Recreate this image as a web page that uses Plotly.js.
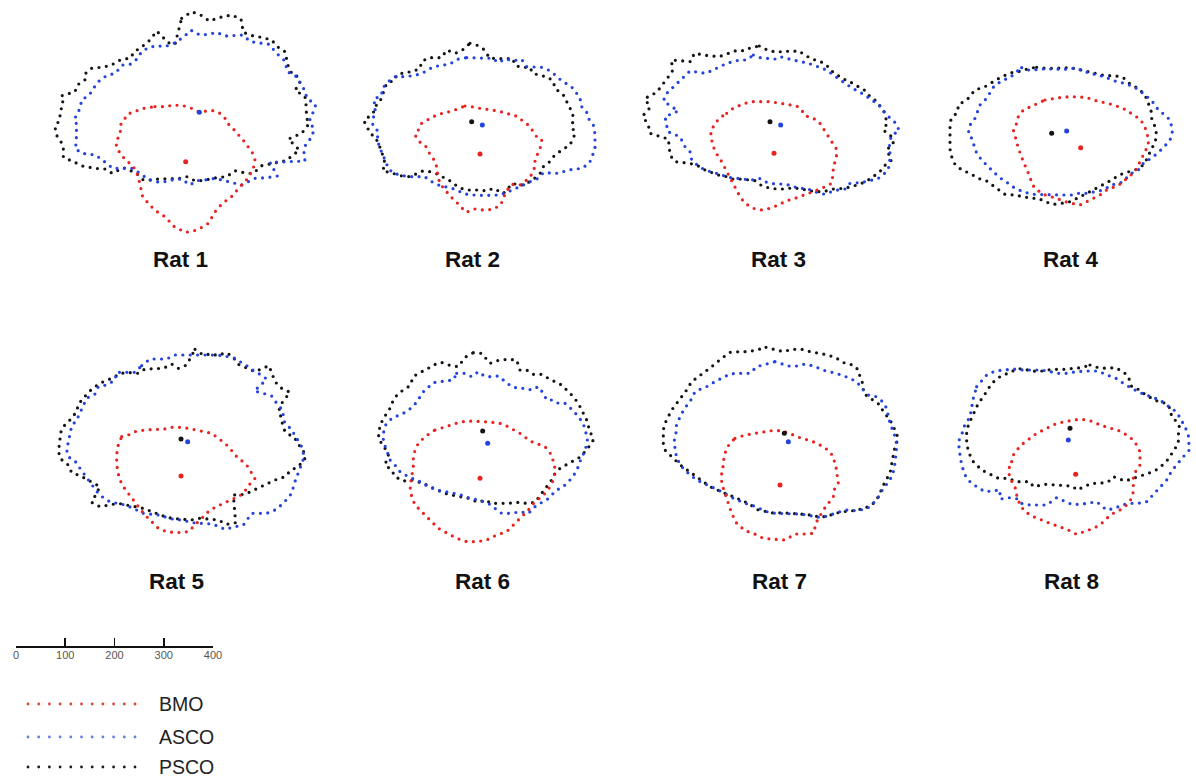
<!DOCTYPE html>
<html><head><meta charset="utf-8">
<script src="https://cdn.plot.ly/plotly-3.0.1.min.js"></script>
<style>
html,body{margin:0;padding:0;background:#fff;}
#chart{width:1196px;height:779px;}
.scatterlayer .js-line, .shapelayer path { stroke-linecap: round !important; }
</style></head><body><div id="chart"></div>
<script>
// Contour coordinates (image units, 1 unit = 1/3 px), per rat.
const RAT1_PSCO = [[425,40],[455,20],[482,30],[508,48],[540,37],[575,30],[603,42],[610,82],[637,92],[665,97],[695,105],[712,125],[735,140],[740,163],[745,185],[758,210],[775,215],[780,235],[765,255],[795,275],[798,298],[800,340],[808,355],[785,385],[745,402],[778,435],[755,452],[738,467],[665,482],[640,505],[620,505],[585,497],[560,515],[535,517],[510,522],[485,527],[460,525],[440,515],[420,520],[400,520],[380,520],[355,522],[330,525],[310,525],[290,505],[268,495],[250,488],[217,505],[195,492],[165,490],[128,483],[100,470],[70,457],[70,432],[63,410],[48,388],[45,363],[60,345],[60,320],[70,297],[63,273],[105,260],[112,240],[138,222],[137,205],[155,190],[190,186],[215,180],[233,168],[250,162],[270,160],[285,138],[300,130],[330,105],[350,78],[385,113],[405,118]];
const RAT1_ASCO = [[455,77],[480,90],[505,88],[530,82],[555,93],[580,92],[608,90],[632,110],[660,115],[688,118],[708,143],[735,168],[742,200],[770,215],[782,235],[795,258],[800,278],[827,300],[818,325],[808,348],[822,373],[815,397],[797,418],[792,442],[795,468],[740,470],[690,472],[712,513],[680,518],[645,520],[605,540],[565,530],[525,520],[495,525],[470,527],[450,540],[425,522],[395,525],[365,532],[345,530],[320,520],[300,505],[275,490],[245,490],[218,490],[200,475],[187,465],[167,450],[125,445],[105,430],[110,410],[108,385],[112,360],[102,345],[120,310],[125,285],[148,270],[160,250],[180,225],[200,212],[225,205],[248,180],[270,178],[290,163],[305,140],[325,128],[350,122],[375,125],[400,115],[410,112],[430,95]];
const RAT1_BMO = [[345,305],[375,305],[400,300],[430,302],[455,310],[475,320],[520,317],[540,325],[555,340],[558,350],[580,372],[598,393],[615,412],[637,443],[645,465],[640,490],[622,522],[600,545],[572,578],[548,594],[527,618],[505,655],[472,675],[437,682],[403,665],[375,635],[348,618],[327,598],[307,572],[300,537],[290,500],[275,478],[258,467],[245,450],[230,430],[228,410],[238,392],[242,375],[240,362],[255,340],[262,328],[282,320],[312,310]];

const RAT2_PSCO = [[360,25],[380,30],[400,42],[420,70],[440,70],[465,72],[487,70],[497,92],[515,97],[540,97],[548,115],[570,120],[595,127],[610,140],[615,160],[640,180],[655,210],[668,235],[670,255],[665,275],[676,295],[660,330],[635,345],[610,365],[595,385],[580,395],[575,410],[560,425],[540,440],[510,452],[488,445],[460,475],[430,460],[410,468],[390,465],[370,465],[350,465],[325,457],[305,440],[285,430],[265,418],[240,410],[218,408],[180,425],[150,422],[120,412],[98,408],[105,385],[95,350],[85,325],[75,305],[62,297],[42,258],[70,233],[75,215],[90,200],[97,180],[105,155],[110,145],[135,135],[140,120],[165,112],[188,110],[210,100],[215,80],[235,68],[255,68],[275,68],[290,45],[315,55],[335,47]];
const RAT2_ASCO = [[350,68],[370,68],[390,70],[410,70],[428,70],[445,83],[465,72],[490,77],[515,73],[530,95],[552,95],[575,97],[595,105],[612,117],[630,133],[650,148],[670,160],[690,190],[695,215],[710,232],[715,250],[730,270],[735,297],[735,342],[718,385],[695,400],[655,405],[625,415],[580,413],[565,430],[540,440],[510,455],[470,470],[450,480],[430,480],[405,482],[385,480],[360,480],[340,475],[320,465],[300,458],[270,452],[235,435],[225,425],[180,425],[160,422],[130,415],[115,400],[108,382],[95,355],[88,335],[82,312],[85,290],[68,270],[72,235],[78,215],[70,195],[95,180],[97,160],[115,140],[135,125],[160,125],[190,122],[210,117],[225,110],[250,95],[275,90],[300,87],[315,77],[330,70]];
const RAT2_BMO = [[345,213],[365,215],[390,220],[420,225],[445,228],[470,235],[490,240],[505,245],[520,260],[535,270],[545,283],[560,305],[575,312],[575,325],[570,340],[560,360],[555,375],[555,395],[548,410],[540,428],[510,450],[485,448],[468,470],[452,510],[428,523],[400,525],[375,522],[348,532],[323,505],[295,478],[285,462],[272,450],[265,430],[262,410],[258,385],[248,368],[235,350],[228,335],[213,325],[205,315],[195,300],[205,285],[215,265],[240,250],[265,238],[290,232],[315,225]];

const RAT3_PSCO = [[388,33],[412,45],[440,52],[465,48],[485,50],[505,47],[525,60],[545,72],[568,78],[590,90],[600,105],[620,120],[640,132],[660,140],[675,150],[695,160],[710,170],[720,185],[735,195],[748,210],[762,230],[765,245],[773,262],[760,285],[785,305],[790,325],[770,345],[785,375],[760,395],[750,410],[715,435],[695,445],[665,455],[640,460],[610,462],[580,470],[555,470],[530,465],[510,462],[490,458],[465,462],[440,462],[415,458],[395,452],[375,437],[355,435],[335,432],[310,433],[290,425],[265,420],[245,412],[225,405],[205,393],[180,385],[135,380],[120,360],[118,337],[115,312],[60,295],[55,270],[38,243],[60,218],[45,190],[80,172],[95,152],[127,110],[125,75],[182,80],[193,55],[235,62],[268,65],[295,55],[318,47],[345,47],[362,38]];
const RAT3_ASCO = [[370,60],[390,68],[410,70],[435,72],[450,65],[465,68],[490,75],[512,80],[530,83],[550,90],[570,97],[590,105],[610,120],[630,135],[650,148],[668,160],[685,168],[705,180],[725,195],[745,208],[758,225],[770,240],[798,265],[808,288],[785,300],[778,325],[780,355],[778,375],[778,393],[770,410],[745,430],[720,437],[690,443],[660,445],[645,462],[612,467],[585,478],[560,472],[530,460],[505,460],[485,452],[460,447],[437,447],[412,443],[388,430],[365,435],[345,433],[325,430],[295,427],[270,418],[245,412],[225,405],[205,393],[185,375],[180,350],[165,335],[150,305],[113,290],[110,270],[105,245],[145,228],[100,198],[110,175],[128,158],[160,125],[180,108],[228,115],[268,95],[290,85],[308,80],[330,75],[350,75]];
const RAT3_BMO = [[290,235],[300,225],[320,215],[345,205],[370,200],[395,200],[415,200],[440,203],[460,207],[480,210],[500,213],[515,225],[525,242],[545,248],[560,255],[570,265],[580,280],[590,295],[600,312],[610,325],[618,340],[620,360],[615,380],[610,400],[608,425],[605,445],[575,460],[550,470],[520,480],[490,492],[470,497],[445,510],[420,520],[395,525],[370,520],[345,505],[330,485],[320,465],[305,440],[295,415],[285,395],[275,380],[262,360],[252,340],[245,315],[242,290],[255,265],[270,248]];

const RAT4_PSCO = [[305,37],[330,40],[355,40],[380,40],[405,38],[430,43],[455,48],[480,55],[510,62],[540,62],[565,68],[585,87],[610,100],[630,120],[640,145],[648,165],[650,190],[660,215],[665,240],[660,262],[645,290],[640,305],[625,330],[600,345],[575,352],[552,360],[530,375],[510,385],[490,395],[475,405],[455,415],[430,428],[405,440],[380,445],[355,448],[330,440],[310,430],[290,430],[265,425],[240,420],[210,418],[180,395],[155,378],[130,370],[105,355],[80,345],[60,328],[50,305],[45,282],[45,260],[45,240],[45,215],[48,193],[68,170],[70,150],[98,132],[120,105],[150,95],[175,80],[200,65],[230,53],[260,48],[282,40]];
const RAT4_ASCO = [[260,38],[275,45],[295,45],[320,42],[345,42],[370,42],[390,43],[415,40],[440,45],[465,55],[490,60],[520,70],[545,80],[570,85],[595,95],[612,105],[630,120],[648,135],[660,150],[670,165],[690,180],[705,195],[710,215],[712,235],[705,255],[688,275],[672,290],[655,305],[625,325],[610,345],[590,355],[575,370],[560,382],[530,390],[505,405],[480,410],[455,415],[430,415],[410,420],[390,420],[365,420],[345,418],[320,420],[295,418],[270,412],[240,400],[220,385],[200,372],[180,355],[160,335],[140,315],[125,295],[118,270],[110,250],[100,235],[105,210],[118,195],[125,175],[135,150],[155,130],[168,110],[178,92],[205,75],[225,68],[245,50]];
const RAT4_BMO = [[330,135],[355,130],[380,127],[405,125],[430,125],[455,127],[475,135],[500,140],[525,147],[550,155],[575,165],[595,180],[612,190],[628,210],[635,230],[640,250],[640,270],[630,290],[620,310],[610,330],[600,350],[575,370],[560,385],[540,395],[515,405],[495,420],[475,430],[455,440],[435,450],[410,445],[390,440],[370,432],[345,425],[325,418],[300,400],[290,385],[285,365],[275,345],[265,320],[258,300],[250,280],[245,260],[240,240],[235,225],[245,205],[250,185],[265,165],[285,155],[305,145]];

const RAT5_PSCO = [[450,28],[475,45],[500,42],[520,47],[540,38],[562,47],[578,72],[605,85],[630,95],[672,77],[690,125],[710,145],[735,157],[712,187],[700,215],[708,230],[712,250],[720,275],[750,295],[757,310],[775,330],[780,355],[760,380],[738,390],[720,410],[690,420],[655,437],[630,450],[600,463],[565,465],[572,548],[545,553],[520,540],[490,537],[462,535],[438,540],[405,538],[380,535],[360,530],[340,523],[320,515],[295,505],[270,500],[245,495],[220,490],[165,500],[140,487],[165,440],[145,428],[120,415],[100,405],[80,398],[70,375],[45,355],[40,330],[45,307],[45,282],[55,260],[75,240],[95,215],[100,193],[130,157],[150,140],[175,125],[200,115],[228,100],[255,98],[280,100],[300,87],[330,85],[355,85],[380,72],[400,85],[425,75]];
const RAT5_ASCO = [[290,77],[315,57],[340,57],[365,57],[390,45],[415,45],[440,45],[465,47],[490,45],[515,45],[540,48],[570,55],[590,68],[610,80],[630,95],[655,108],[665,118],[628,153],[655,160],[680,168],[690,183],[712,210],[718,245],[740,270],[752,290],[770,320],[778,350],[770,370],[765,385],[755,410],[748,430],[740,460],[715,490],[690,510],[665,520],[620,520],[595,555],[570,560],[540,568],[510,555],[485,550],[455,550],[430,545],[408,540],[385,538],[360,530],[340,525],[320,523],[295,520],[265,505],[240,495],[220,490],[197,487],[175,473],[160,460],[145,440],[130,420],[118,405],[105,385],[95,368],[70,350],[65,330],[70,302],[75,280],[80,258],[95,240],[105,218],[125,175],[150,162],[160,140],[185,135],[210,120],[215,97],[248,98],[270,97]];
const RAT5_BMO = [[230,290],[250,285],[270,275],[300,270],[330,268],[355,268],[380,262],[405,262],[430,265],[455,270],[480,275],[500,280],[520,295],[540,310],[555,325],[570,345],[605,375],[615,392],[630,415],[612,435],[595,460],[580,470],[555,480],[535,490],[515,500],[495,510],[475,530],[455,550],[430,575],[395,578],[365,575],[340,565],[320,545],[300,525],[280,500],[265,480],[250,460],[235,440],[225,420],[218,395],[215,370],[215,345],[218,320]];

const RAT6_PSCO = [[325,38],[350,40],[375,70],[403,60],[428,58],[455,60],[465,90],[485,90],[505,103],[530,103],[550,115],[570,125],[590,135],[605,150],[625,170],[640,190],[650,210],[665,240],[672,265],[685,300],[665,330],[640,355],[620,365],[600,375],[585,385],[570,400],[560,420],[545,440],[530,460],[510,487],[485,490],[460,487],[430,490],[405,490],[380,490],[360,480],[340,487],[310,475],[280,470],[260,465],[240,460],[215,450],[195,440],[175,430],[140,420],[115,423],[90,410],[80,390],[60,375],[70,345],[60,325],[40,295],[45,255],[60,228],[75,205],[85,180],[100,160],[135,137],[145,110],[160,100],[185,88],[205,75],[228,67],[258,77],[280,80],[300,52]];
const RAT6_ASCO = [[275,100],[300,100],[320,110],[340,95],[358,108],[375,110],[400,108],[420,125],[440,140],[460,145],[480,145],[500,150],[520,140],[535,160],[545,180],[565,180],[580,190],[600,190],[625,212],[640,230],[655,250],[660,270],[668,295],[665,310],[660,335],[650,350],[640,380],[630,400],[615,420],[595,440],[575,450],[545,480],[515,495],[490,520],[465,515],[440,520],[410,520],[390,505],[370,490],[340,480],[320,475],[300,470],[280,462],[260,458],[240,455],[215,450],[190,440],[165,425],[130,410],[105,395],[90,375],[75,360],[65,330],[55,305],[55,280],[62,255],[80,235],[105,225],[125,215],[145,198],[160,180],[170,160],[190,143],[205,128],[225,125],[245,122],[265,120]];
const RAT6_BMO = [[210,270],[230,263],[255,255],[280,248],[305,243],[330,243],[355,245],[380,247],[405,250],[425,258],[445,270],[465,280],[485,295],[500,305],[540,320],[560,345],[565,365],[570,385],[570,400],[565,420],[555,440],[545,455],[530,470],[510,485],[490,510],[470,530],[450,550],[425,575],[395,585],[365,600],[335,605],[305,605],[275,595],[245,580],[220,565],[200,545],[180,525],[165,510],[150,495],[140,470],[135,440],[140,410],[145,380],[145,355],[150,330],[160,310],[180,290]];

const RAT7_PSCO = [[348,22],[375,30],[400,35],[425,28],[455,28],[480,35],[510,40],[535,45],[560,55],[585,70],[610,75],[625,90],[630,110],[640,135],[640,160],[660,175],[690,195],[700,215],[720,240],[735,270],[745,295],[735,320],[730,350],[725,375],[720,400],[705,425],[695,445],[685,470],[670,490],[645,505],[610,512],[580,515],[555,520],[530,530],[505,530],[480,525],[450,522],[420,520],[395,518],[375,520],[350,515],[325,510],[295,490],[275,480],[250,470],[225,460],[200,450],[180,440],[160,425],[140,410],[120,395],[95,378],[70,355],[45,330],[40,310],[40,290],[40,270],[45,250],[55,230],[65,210],[80,190],[95,170],[110,150],[125,125],[145,110],[160,100],[185,80],[215,55],[240,37],[270,35],[295,35],[320,30]];
const RAT7_ASCO = [[375,65],[395,72],[415,78],[440,78],[465,72],[490,78],[525,92],[550,98],[575,105],[600,115],[620,125],[640,150],[655,165],[678,170],[698,185],[710,205],[715,225],[720,250],[730,275],[738,298],[740,320],[738,345],[735,370],[730,395],[720,420],[700,445],[690,465],[680,480],[650,507],[615,512],[585,510],[555,520],[525,530],[500,532],[475,525],[445,522],[420,522],[395,520],[375,520],[350,515],[325,505],[305,495],[285,490],[260,480],[240,470],[215,455],[185,440],[165,430],[140,420],[115,400],[95,380],[80,355],[75,330],[72,305],[78,280],[78,260],[90,230],[105,203],[120,185],[135,155],[150,148],[170,140],[195,125],[215,115],[240,102],[260,100],[280,100],[300,100],[320,80],[350,72]];
const RAT7_BMO = [[255,295],[285,285],[315,280],[340,275],[365,272],[390,272],[405,275],[420,280],[440,290],[465,298],[485,303],[520,320],[540,335],[550,352],[555,370],[560,390],[562,410],[565,430],[552,450],[550,470],[520,510],[500,545],[490,580],[465,582],[435,582],[405,600],[375,598],[340,595],[310,580],[285,572],[260,550],[245,520],[235,490],[225,460],[215,430],[215,400],[220,375],[222,350],[230,325],[240,310]];

const RAT8_PSCO = [[420,30],[445,38],[470,40],[495,38],[520,50],[535,65],[540,80],[545,95],[560,100],[580,115],[595,125],[608,130],[625,140],[648,145],[660,160],[665,185],[680,200],[688,215],[685,240],[685,265],[670,290],[655,312],[640,328],[618,345],[595,355],[570,362],[550,370],[525,378],[490,365],[475,380],[450,385],[425,385],[400,395],[380,405],[370,395],[350,392],[320,390],[300,388],[285,388],[250,395],[240,380],[200,380],[175,370],[145,370],[120,358],[95,345],[70,320],[55,290],[50,260],[50,235],[55,210],[70,175],[85,145],[100,125],[115,100],[125,85],[150,65],[175,55],[195,45],[215,40],[240,47],[265,50],[290,45],[315,43],[340,43],[370,40],[395,38]];
const RAT8_ASCO = [[80,95],[110,60],[135,48],[165,45],[190,42],[218,45],[248,45],[275,45],[300,50],[325,55],[350,55],[380,50],[415,48],[445,48],[470,60],[495,68],[520,85],[545,100],[575,115],[600,125],[630,135],[650,150],[672,165],[685,180],[705,215],[715,240],[718,265],[718,285],[700,305],[680,330],[665,348],[650,375],[632,395],[610,420],[590,440],[565,445],[540,445],[515,450],[495,460],[470,465],[440,440],[410,445],[390,448],[365,448],[345,440],[320,428],[290,450],[268,450],[240,450],[215,445],[205,432],[180,428],[150,432],[150,405],[105,410],[80,395],[60,380],[45,360],[35,330],[30,300],[25,260],[35,240],[42,215],[60,185],[65,160],[70,130]];
const RAT8_BMO = [[185,320],[190,300],[205,280],[220,265],[240,250],[260,235],[280,225],[300,215],[320,205],[345,200],[370,195],[390,192],[410,195],[430,200],[450,210],[470,215],[490,222],[510,228],[530,240],[550,255],[560,270],[570,290],[570,310],[570,330],[560,345],[550,360],[550,385],[550,410],[545,430],[530,450],[510,465],[490,475],[470,490],[450,510],[430,520],[405,530],[380,538],[355,525],[325,515],[300,505],[275,495],[250,485],[225,470],[210,450],[200,420],[195,395],[180,370],[175,345]];

// Centre markers per rat: [x, y] or null when not visible
const CENTER_PSCO = [null,[365,260],[420,260],[350,235],[408,297],[353,273],[403,280],[360,220]];
const CENTER_ASCO = [[478,322],[397,270],[452,270],[395,228],[428,305],[368,310],[415,305],[355,255]];
const CENTER_BMO  = [[437,470],[390,357],[432,355],[437,278],[408,408],[345,415],[390,435],[377,358]];

const RAT_LABELS = ['Rat 1','Rat 2','Rat 3','Rat 4','Rat 5','Rat 6','Rat 7','Rat 8'];
const SCALE_TICKS = [0,100,200,300,400];
const LEGEND_LABELS = ['BMO','ASCO','PSCO'];

// ---- layout config (pixels) ----
const W = 1196, H = 779;
const PANEL_BOX = [[40,5,290,235],[350,35,260,190],[630,35,285,185],[935,55,260,160],
                   [45,340,270,200],[365,340,240,210],[650,340,260,205],[950,355,245,185]];
const LABEL_POS = [[180,259],[472,259],[778,259],[1071,259],[176,581],[482,581],[779,581],[1071,581]];
const COLORS = {BMO:'#e8231f', ASCO:'#2344dc', PSCO:'#141414'};
const LEGEND_COLORS = ['#ea3b35','#5b82e6','#1a1a1a'];
const LEGEND_Y = [704,737,767];

const CONTOURS = [
  [RAT1_PSCO,RAT1_ASCO,RAT1_BMO],[RAT2_PSCO,RAT2_ASCO,RAT2_BMO],[RAT3_PSCO,RAT3_ASCO,RAT3_BMO],[RAT4_PSCO,RAT4_ASCO,RAT4_BMO],
  [RAT5_PSCO,RAT5_ASCO,RAT5_BMO],[RAT6_PSCO,RAT6_ASCO,RAT6_BMO],[RAT7_PSCO,RAT7_ASCO,RAT7_BMO],[RAT8_PSCO,RAT8_ASCO,RAT8_BMO]];
const LAYER_NAMES = ['PSCO','ASCO','BMO'];
const CENTERS = [CENTER_PSCO, CENTER_ASCO, CENTER_BMO];

const traces = [];
const layout = {
  width: W, height: H, margin:{l:0,r:0,t:0,b:0},
  paper_bgcolor:'#fff', plot_bgcolor:'rgba(0,0,0,0)', showlegend:false,
  annotations: [], shapes: []
};

for (let i = 0; i < 8; i++) {
  const n = i + 1;
  const xa = n === 1 ? 'x' : 'x' + n, ya = n === 1 ? 'y' : 'y' + n;
  const [bx, by, bw, bh] = PANEL_BOX[i];
  layout[n === 1 ? 'xaxis' : 'xaxis' + n] = {
    domain:[bx / W, (bx + bw) / W], range:[0, bw * 3], visible:false, fixedrange:true, anchor: ya
  };
  layout[n === 1 ? 'yaxis' : 'yaxis' + n] = {
    domain:[1 - (by + bh) / H, 1 - by / H], range:[bh * 3, 0], visible:false, fixedrange:true, anchor: xa
  };
  CONTOURS[i].forEach((pts, k) => {
    const closed = pts.concat([pts[0]]);
    traces.push({
      type:'scatter', mode:'lines', xaxis:xa, yaxis:ya, hoverinfo:'skip',
      x: closed.map(p => p[0]), y: closed.map(p => p[1]),
      line:{color: COLORS[LAYER_NAMES[k]], width:3.2, dash:'0px,7.4px'}
    });
  });
  CENTERS.forEach((arr, k) => {
    const c = arr[i];
    if (!c) return;
    traces.push({
      type:'scatter', mode:'markers', xaxis:xa, yaxis:ya, hoverinfo:'skip',
      x:[c[0]], y:[c[1]], marker:{color: COLORS[LAYER_NAMES[k]], size:5}
    });
  });
  layout.annotations.push({
    xref:'paper', yref:'paper', x: LABEL_POS[i][0] / W, y: 1 - LABEL_POS[i][1] / H,
    xanchor:'center', yanchor:'middle', showarrow:false, text: RAT_LABELS[i],
    font:{family:'Liberation Sans, Arial, sans-serif', size:22.5, weight:'bold', color:'#111'}
  });
}

// scale bar axis (micrometres)
traces.push({type:'scatter', mode:'markers', x:[], y:[], xaxis:'x9', yaxis:'y9', hoverinfo:'skip'});
layout.xaxis9 = {
  domain:[16 / W, 213 / W], range:[SCALE_TICKS[0], SCALE_TICKS[SCALE_TICKS.length-1]], anchor:'y9',
  showline:true, linecolor:'#111', linewidth:2, ticks:'inside', ticklen:8, tickwidth:1.6, tickcolor:'#111',
  tickmode:'array', tickvals: SCALE_TICKS, ticktext: SCALE_TICKS.map(String),
  tickfont:{family:'Liberation Sans, Arial, sans-serif', size:11, color:'#555'},
  showgrid:false, zeroline:false, fixedrange:true, ticklabelstandoff:-2
};
layout.yaxis9 = {domain:[1 - 646 / H, 1 - 630 / H], range:[0,1], visible:false, fixedrange:true, anchor:'x9'};

// legend
LEGEND_LABELS.forEach((lab, k) => {
  const yy = 1 - LEGEND_Y[k] / H;
  layout.shapes.push({
    type:'line', xref:'paper', yref:'paper', x0: 28 / W, x1: 136 / W, y0: yy, y1: yy,
    line:{color: LEGEND_COLORS[k], width:2.8, dash:'0px,10.7px'}
  });
  layout.annotations.push({
    xref:'paper', yref:'paper', x: 158 / W, y: yy, xanchor:'left', yanchor:'middle', showarrow:false,
    text: lab, borderpad:0, font:{family:'Liberation Sans, Arial, sans-serif', size:19.5, color:'#222'}
  });
});

Plotly.newPlot('chart', traces, layout, {staticPlot:true, displayModeBar:false});
</script></body></html>
